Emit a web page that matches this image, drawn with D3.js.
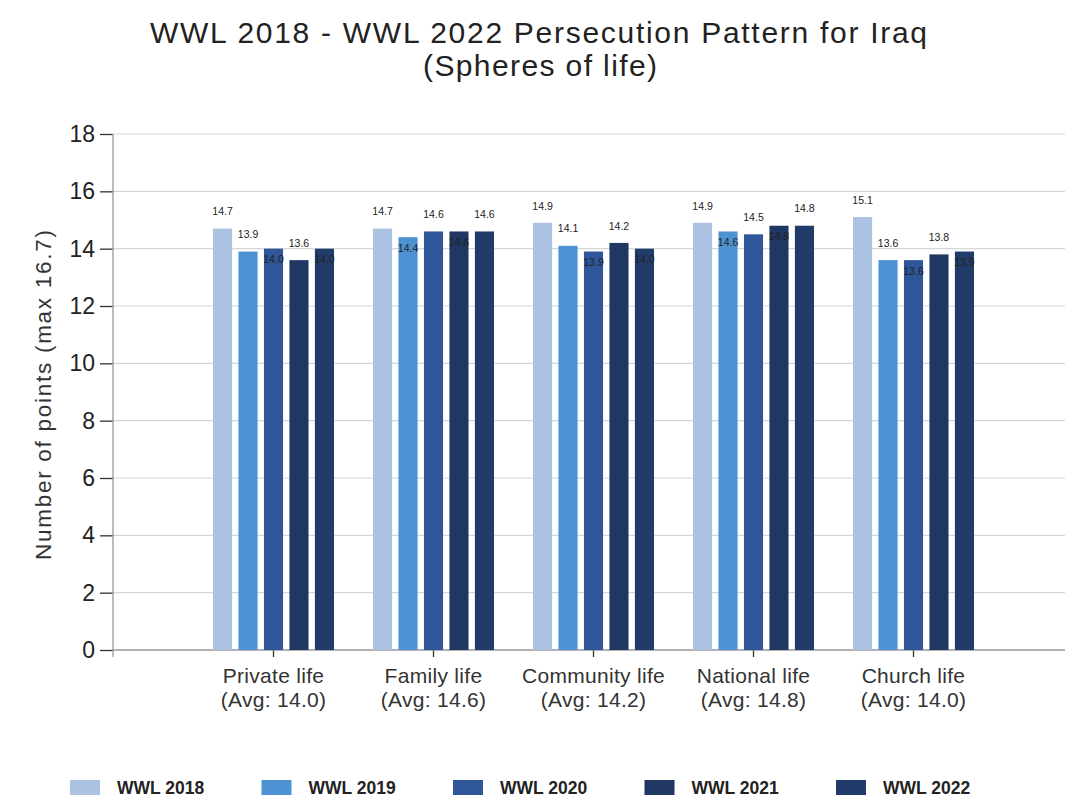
<!DOCTYPE html>
<html>
<head>
<meta charset="utf-8">
<script src="https://cdn.jsdelivr.net/npm/d3@7"></script>
<style>
  html, body { margin: 0; padding: 0; background: #fff; }
  svg { display: block; font-family: "Liberation Sans", Arial, sans-serif; }
</style>
</head>
<body>
<svg id="chart" width="1073" height="799"></svg>
<script>
// ---- data ----
const categories = ["Private life", "Family life", "Community life", "National life", "Church life"];
const averages = ["14.0", "14.6", "14.2", "14.8", "14.0"];
const seriesNames = ["WWL 2018", "WWL 2019", "WWL 2020", "WWL 2021", "WWL 2022"];
const wwl2018 = [14.7, 14.7, 14.9, 14.9, 15.1];
const wwl2019 = [13.9, 14.4, 14.1, 14.6, 13.6];
const wwl2020 = [14.0, 14.6, 13.9, 14.5, 13.6];
const wwl2021 = [13.6, 14.6, 14.2, 14.8, 13.8];
const wwl2022 = [14.0, 14.6, 14.0, 14.8, 13.9];
const yTicks = [0, 2, 4, 6, 8, 10, 12, 14, 16, 18];
const titleLines = ["WWL 2018 - WWL 2022 Persecution Pattern for Iraq", "(Spheres of life)"];
const yAxisTitle = "Number of points (max 16.7)";

const seriesValues = [wwl2018, wwl2019, wwl2020, wwl2021, wwl2022];
const colors = ["#abc2e3", "#4d92d2", "#2e5699", "#1f3762", "#213c6b"];

const svg = d3.select("#chart");

// ---- scales ----
const plotLeft = 113, plotRight = 1065;
const y = d3.scaleLinear().domain([0, 18]).range([650, 134]);
const x0 = d3.scaleBand().domain(categories).range([193.5, 993.5]).padding(0);
const x1 = d3.scaleBand().domain(seriesNames).range([-60.5, 60.5]).paddingInner(0.25).paddingOuter(0);

// ---- gridlines ----
svg.append("g").selectAll("line")
  .data(yTicks.filter(d => d > 0))
  .join("line")
  .attr("x1", plotLeft).attr("x2", plotRight)
  .attr("y1", d => y(d)).attr("y2", d => y(d))
  .attr("stroke", "#d6d6d6").attr("stroke-width", 1.2);

// ---- y axis ----
const yAxis = d3.axisLeft(y).tickValues(yTicks).tickSize(13).tickPadding(5).tickFormat(d3.format("d"));
const gy = svg.append("g").attr("transform", `translate(${plotLeft},0)`).call(yAxis);
gy.select(".domain").remove();
gy.selectAll(".tick line").attr("stroke", "#333").attr("stroke-width", 1.3);
gy.selectAll(".tick text").attr("font-size", 23).attr("fill", "#222")
  .attr("font-family", "'Liberation Sans', Arial, sans-serif");
svg.append("line").attr("x1", plotLeft).attr("x2", plotLeft)
  .attr("y1", y(18)).attr("y2", y(0) + 7)
  .attr("stroke", "#999").attr("stroke-width", 1.3);

// ---- x axis ----
const xAxis = d3.axisBottom(x0).tickSize(7).tickFormat("");
const gx = svg.append("g").attr("transform", `translate(0,${y(0)})`).call(xAxis);
gx.select(".domain").remove();
gx.selectAll(".tick line").attr("stroke", "#333").attr("stroke-width", 1.3);
svg.append("line").attr("x1", plotLeft).attr("x2", plotRight)
  .attr("y1", y(0)).attr("y2", y(0))
  .attr("stroke", "#999").attr("stroke-width", 1.5);

// category labels
const catG = svg.append("g");
categories.forEach((c, i) => {
  const cx = x0(c) + x0.bandwidth() / 2;
  catG.append("text").attr("x", cx).attr("y", 683)
    .attr("text-anchor", "middle").attr("font-size", 21).attr("letter-spacing", 0.3)
    .attr("fill", "#333").text(c);
  catG.append("text").attr("x", cx).attr("y", 707)
    .attr("text-anchor", "middle").attr("font-size", 21).attr("letter-spacing", 0.3)
    .attr("fill", "#333").text(`(Avg: ${averages[i]})`);
});

// ---- bars ----
const barData = [];
categories.forEach((c, ci) => {
  seriesNames.forEach((s, si) => {
    barData.push({ cat: c, ci, series: s, si, value: seriesValues[si][ci] });
  });
});

const barsG = svg.append("g");
barsG.selectAll("rect").data(barData).join("rect")
  .attr("x", d => x0(d.cat) + x0.bandwidth() / 2 + x1(d.series))
  .attr("y", d => y(d.value))
  .attr("width", x1.bandwidth())
  .attr("height", d => y(0) - y(d.value))
  .attr("fill", d => colors[d.si]);

// ---- value labels (with simple collision avoidance) ----
const labelsG = svg.append("g");
categories.forEach((c, ci) => {
  let prevY = null;
  seriesNames.forEach((s, si) => {
    const v = seriesValues[si][ci];
    const cx = x0(c) + x0.bandwidth() / 2 + x1(s) + x1.bandwidth() / 2;
    let ly = y(v) - 17;
    if (prevY !== null && Math.abs(ly - prevY) < 16) {
      ly = y(v) + 11;
    }
    prevY = ly;
    labelsG.append("text").attr("x", cx).attr("y", ly)
      .attr("dy", "0.35em").attr("text-anchor", "middle")
      .attr("font-size", 10.5).attr("fill", "#222").text(v.toFixed(1));
  });
});

// ---- titles ----
svg.append("text").attr("x", 538.5).attr("y", 43).attr("text-anchor", "middle")
  .attr("font-size", 30).attr("fill", "#222")
  .attr("textLength", 777).attr("lengthAdjust", "spacing").text(titleLines[0]);
svg.append("text").attr("x", 540).attr("y", 76).attr("text-anchor", "middle")
  .attr("font-size", 30).attr("fill", "#222")
  .attr("textLength", 234).attr("lengthAdjust", "spacing").text(titleLines[1]);

svg.append("text")
  .attr("transform", "translate(51,395) rotate(-90)")
  .attr("text-anchor", "middle").attr("font-size", 22.5).attr("fill", "#333")
  .attr("textLength", 330).attr("lengthAdjust", "spacing")
  .text(yAxisTitle);

// ---- legend ----
const legend = svg.append("g");
seriesNames.forEach((s, i) => {
  const lx = 70 + 191.5 * i;
  legend.append("rect").attr("x", lx).attr("y", 780).attr("width", 30).attr("height", 15)
    .attr("fill", colors[i]);
  legend.append("text").attr("x", lx + 47).attr("y", 794)
    .attr("font-size", 17.5).attr("font-weight", "bold").attr("fill", "#222").text(s);
});
</script>
</body>
</html>
